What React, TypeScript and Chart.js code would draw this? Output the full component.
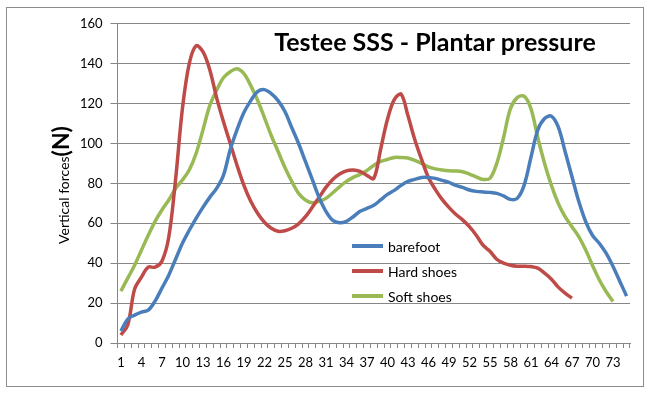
import { useEffect, useRef } from "react";
import { Chart, registerables } from "chart.js";

Chart.register(...registerables);

const categories = [
  1, 2, 3, 4, 5, 6, 7, 8, 9, 10, 11, 12, 13, 14, 15, 16, 17, 18, 19, 20,
  21, 22, 23, 24, 25, 26, 27, 28, 29, 30, 31, 32, 33, 34, 35, 36, 37, 38, 39, 40,
  41, 42, 43, 44, 45, 46, 47, 48, 49, 50, 51, 52, 53, 54, 55, 56, 57, 58, 59, 60,
  61, 62, 63, 64, 65, 66, 67, 68, 69, 70, 71, 72, 73, 74, 75,
];

const xTickLabels = [1, 4, 7, 10, 13, 16, 19, 22, 25, 28, 31, 34, 37, 40, 43, 46, 49, 52, 55, 58, 61, 64, 67, 70, 73];

const barefoot = [
  6, 12, 14, 15.5, 16.5, 21, 27.5, 34, 42, 50,
  56.5, 62.5, 68, 73, 77.5, 84, 97, 107, 115.5, 121.5,
  126, 127, 125, 121.5, 116, 108, 100, 91, 82, 73,
  66, 61.5, 60.3, 61, 63.3, 66, 67.5, 69, 71.7, 74.5,
  76.5, 79, 81, 82, 83, 83, 82.5, 81.5, 80.5, 79,
  78, 76.7, 76, 75.7, 75.5, 75, 73.7, 72, 72.5, 79,
  93, 106.7, 112.5, 113.7, 108.3, 96, 83.5, 71, 61, 54,
  50, 45, 38.5, 31, 23.5,
];

const hardShoes = [
  4, 9, 27, 33, 38, 38, 41, 53, 82, 117.5,
  140, 149, 146, 137, 123, 111, 100, 89, 79, 71,
  65, 60.5, 57.5, 56, 56.3, 57.5, 59.7, 63.3, 68, 73,
  78, 82, 84.7, 86.3, 86.7, 86, 84, 82.5, 97, 112,
  122, 124.7, 114, 102, 92, 83, 77, 72, 68, 64.5,
  61.7, 58.3, 54, 49, 46, 42, 40, 39, 38.5, 38.5,
  38.3, 37.5, 35, 32, 28, 25, 22.5, null, null, null,
  null, null, null, null, null,
];

const softShoes = [
  26, 32.5, 39, 46.5, 54, 61, 66.7, 71.7, 77.5, 81.7,
  86.7, 95, 106.7, 119, 126.7, 133, 136, 137.5, 135, 129,
  121.7, 113, 104, 96, 88, 81, 75, 71.7, 70.3, 71,
  72.5, 75.3, 78.3, 81, 83, 84.5, 86.5, 89, 91, 92,
  93, 93, 92.7, 91.5, 90, 88.3, 87.3, 86.7, 86.3, 86.2,
  85.8, 84.7, 83.3, 82, 82.5, 90, 103, 117.5, 123, 123.7,
  117.5, 103, 90, 79, 70, 63.3, 58.3, 53.3, 46.7, 39,
  31.7, 25.8, 20.8, null, null,
];

const seriesNames = ["barefoot", "Hard shoes", "Soft shoes"];
const seriesColors = ["#4A7EBB", "#BE4B48", "#98B954"];

const FONT = "Lato, 'Open Sans', sans-serif";
const GRID = "#868686";

export default function App() {
  const ref = useRef<HTMLCanvasElement | null>(null);

  useEffect(() => {
    if (!ref.current) return;

    const overlay = {
      id: "overlay",
      afterDraw(chart: any) {
        const ctx = chart.ctx as CanvasRenderingContext2D;
        ctx.save();
        // Title
        ctx.fillStyle = "#000";
        ctx.font = `bold 25px ${FONT}`;
        ctx.textAlign = "center";
        ctx.textBaseline = "alphabetic";
        ctx.fillText("Testee SSS - Plantar pressure", 428, 42.5);

        // Y axis title (mixed sizes)
        ctx.save();
        ctx.translate(61.5, 177);
        ctx.rotate(-Math.PI / 2);
        ctx.textAlign = "left";
        const small = "Vertical forces";
        const big = "(N)";
        ctx.font = `14px ${FONT}`;
        const w1 = ctx.measureText(small).width;
        ctx.font = `bold 23px ${FONT}`;
        const w2 = ctx.measureText(big).width;
        const start = -(w1 + w2) / 2;
        ctx.font = `14px ${FONT}`;
        ctx.fillText(small, start, 0);
        ctx.font = `bold 23px ${FONT}`;
        ctx.fillText(big, start + w1, 0);
        ctx.restore();

        // Legend
        ctx.font = `14px ${FONT}`;
        ctx.textAlign = "left";
        ctx.textBaseline = "middle";
        chart.data.datasets.forEach((ds: any, i: number) => {
          const y = 238 + i * 25;
          ctx.strokeStyle = ds.borderColor;
          ctx.lineWidth = 4;
          ctx.lineCap = "butt";
          ctx.beginPath();
          ctx.moveTo(345, y);
          ctx.lineTo(376, y);
          ctx.stroke();
          ctx.fillStyle = "#000";
          ctx.fillText(ds.label, 381, y + 1);
        });
        ctx.restore();
      },
    };

    const makeDs = (label: string, data: (number | null)[], color: string) => ({
      label,
      data,
      borderColor: color,
      backgroundColor: color,
      borderWidth: 3.5,
      pointRadius: 0,
      tension: 0.35,
      spanGaps: false,
      fill: false,
    });

    const chart = new Chart(ref.current, {
      type: "line",
      data: {
        labels: categories.map(String),
        datasets: [
          makeDs(seriesNames[0], barefoot, seriesColors[0]),
          makeDs(seriesNames[1], hardShoes, seriesColors[1]),
          makeDs(seriesNames[2], softShoes, seriesColors[2]),
        ],
      },
      options: {
        responsive: false,
        animation: false,
        devicePixelRatio: 1,
        layout: { padding: { top: 15, right: 13, left: 0, bottom: 0 } },
        plugins: {
          legend: { display: false },
          tooltip: { enabled: false },
          title: { display: false },
        },
        scales: {
          x: {
            offset: true,
            grid: {
              offset: true,
              drawOnChartArea: false,
              drawTicks: true,
              tickLength: 5,
              color: GRID,
            },
            border: { color: GRID },
            ticks: {
              autoSkip: false,
              maxRotation: 0,
              minRotation: 0,
              padding: 7,
              color: "#000",
              font: { family: FONT, size: 13 },
              callback: (_v: any, i: number) =>
                xTickLabels.includes(categories[i]) ? String(categories[i]) : "",
            },
            afterFit: (s: any) => {
              s.height = 43;
            },
          },
          y: {
            min: 0,
            max: 160,
            ticks: {
              stepSize: 20,
              padding: 8,
              color: "#000",
              font: { family: FONT, size: 13 },
            },
            grid: { color: GRID, tickLength: 7, drawTicks: true },
            border: { color: GRID },
            afterFit: (s: any) => {
              s.width = 110.5;
            },
          },
        },
      },
      plugins: [overlay],
    } as any);

    return () => chart.destroy();
  }, []);

  return (
    <div
      style={{
        position: "absolute",
        left: 6,
        top: 7,
        width: 638,
        height: 380,
        boxSizing: "border-box",
        border: "1px solid #8c8c8c",
        background: "#fff",
      }}
    >
      <canvas ref={ref} width={636} height={378} style={{ display: "block" }} />
    </div>
  );
}
